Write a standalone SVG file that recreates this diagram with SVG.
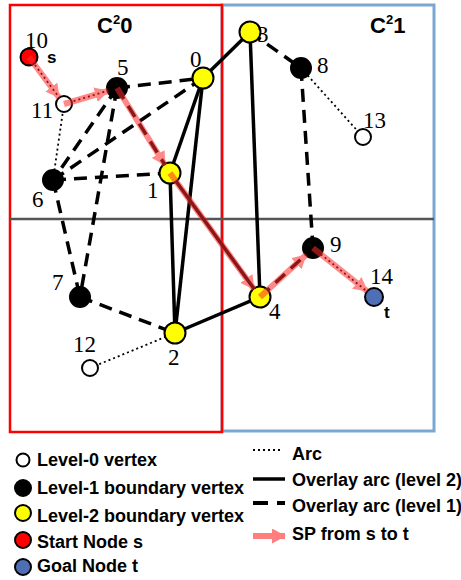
<svg xmlns="http://www.w3.org/2000/svg" width="461" height="580" viewBox="0 0 461 580">
<defs>
<style>
.solid{stroke:#000;stroke-width:3.5;fill:none}
.dash{stroke:#000;stroke-width:3.5;stroke-dasharray:13 8;fill:none}
.dot{stroke:#000;stroke-width:1.8;stroke-dasharray:2 3;fill:none}
.sp{stroke:#ff2a2a;stroke-width:6;fill:none}
.nl{font-family:"Liberation Serif","Times New Roman",serif;font-size:23px;fill:#000}
.bl{font-family:"Liberation Sans",Arial,sans-serif;font-weight:bold;fill:#000}
.lg{font-family:"Liberation Sans",Arial,sans-serif;font-weight:bold;font-size:18px;fill:#000}
.n{stroke:#000;stroke-width:2}
</style>
<marker id="ah" markerUnits="userSpaceOnUse" markerWidth="15" markerHeight="15" viewBox="0 0 15 15" refX="13" refY="7.5" orient="auto">
<path d="M0,0 L14,7.5 L0,15 Z" fill="#ff2a2a"/>
</marker>
</defs>
<rect width="461" height="580" fill="#fff"/>
<g id="clusters">
<rect x="222" y="5" width="212" height="426" fill="none" stroke="#7ba7d3" stroke-width="3"/>
<rect x="10" y="5" width="212" height="427" fill="none" stroke="#ff0000" stroke-width="2.5"/>
<line x1="10" y1="219" x2="434" y2="219" stroke="#555" stroke-width="2.5"/>
<text class="bl" font-size="22" x="97" y="33">C<tspan font-size="13" dy="-9">2</tspan><tspan dy="9">0</tspan></text>
<text class="bl" font-size="22" x="370" y="33">C<tspan font-size="13" dy="-9">2</tspan><tspan dy="9">1</tspan></text>
</g>
<g id="connectors">
<line class="dot" x1="29" y1="57" x2="64" y2="104"/>
<line class="dot" x1="64" y1="104" x2="117" y2="88"/>
<line class="dot" x1="64" y1="104" x2="53" y2="180"/>
<line class="dot" x1="301" y1="68" x2="363" y2="137"/>
<line class="dot" x1="90" y1="368" x2="175" y2="333"/>
<line class="dot" x1="313" y1="248" x2="374" y2="297"/>
<line class="dash" x1="117" y1="88" x2="203" y2="78"/>
<line class="dash" x1="53" y1="180" x2="203" y2="78"/>
<line class="dash" x1="117" y1="88" x2="53" y2="180"/>
<line class="dash" x1="53" y1="180" x2="170" y2="173"/>
<line class="dash" x1="117" y1="88" x2="80" y2="297"/>
<line class="dash" x1="53" y1="180" x2="80" y2="297"/>
<line class="dash" x1="80" y1="297" x2="175" y2="333"/>
<line class="dash" x1="250" y1="32" x2="301" y2="68"/>
<line class="dash" x1="301" y1="68" x2="313" y2="248"/>
<line class="dash" x1="117" y1="88" x2="170" y2="173"/>
<line class="dash" x1="260" y1="297" x2="313" y2="248"/>
<line class="solid" x1="203" y1="78" x2="250" y2="32"/>
<line class="solid" x1="203" y1="78" x2="170" y2="173"/>
<line class="solid" x1="203" y1="78" x2="175" y2="333"/>
<line class="solid" x1="170" y1="173" x2="175" y2="333"/>
<line class="solid" x1="250" y1="32" x2="260" y2="297"/>
<line class="solid" x1="175" y1="333" x2="260" y2="297"/>
<line class="solid" x1="170" y1="173" x2="260" y2="297" stroke-width="4.5"/>
</g>
<g id="node10"><circle class="n" cx="29" cy="57" r="8.5" fill="#ff0000"/><text class="nl" x="25" y="48">10</text><text class="bl" font-size="17" x="47" y="63">s</text></g>
<g id="node11"><circle class="n" cx="64" cy="104" r="8" fill="#fff"/><text class="nl" x="31" y="118">11</text></g>
<g id="node5"><circle class="n" cx="117" cy="88" r="10" fill="#000"/><text class="nl" x="117" y="75">5</text></g>
<g id="node0"><circle class="n" cx="203" cy="78" r="10.5" fill="#ffff00"/><text class="nl" x="190" y="67">0</text></g>
<g id="node1"><circle class="n" cx="170" cy="173" r="10.5" fill="#ffff00"/><text class="nl" x="147" y="198">1</text></g>
<g id="node6"><circle class="n" cx="53" cy="180" r="10" fill="#000"/><text class="nl" x="32" y="207">6</text></g>
<g id="node3"><circle class="n" cx="250" cy="32" r="10.5" fill="#ffff00"/><text class="nl" x="257" y="42">3</text></g>
<g id="node8"><circle class="n" cx="301" cy="68" r="10" fill="#000"/><text class="nl" x="317" y="73">8</text></g>
<g id="node13"><circle class="n" cx="363" cy="137" r="8" fill="#fff"/><text class="nl" x="363" y="128">13</text></g>
<g id="node7"><circle class="n" cx="80" cy="297" r="10" fill="#000"/><text class="nl" x="52" y="290">7</text></g>
<g id="node2"><circle class="n" cx="175" cy="333" r="10.5" fill="#ffff00"/><text class="nl" x="168" y="365">2</text></g>
<g id="node12"><circle class="n" cx="90" cy="368" r="8" fill="#fff"/><text class="nl" x="73" y="352">12</text></g>
<g id="node4"><circle class="n" cx="260" cy="297" r="10.5" fill="#ffff00"/><text class="nl" x="269" y="319">4</text></g>
<g id="node9"><circle class="n" cx="313" cy="248" r="10" fill="#000"/><text class="nl" x="330" y="252">9</text></g>
<g id="node14"><circle class="n" cx="374" cy="297" r="9" fill="#4e6fb5"/><text class="nl" x="370" y="284">14</text><text class="bl" font-size="17" x="384" y="318">t</text></g>
<g id="shortest-path" opacity="0.55">
<line class="sp" x1="29" y1="57" x2="59" y2="97.5" marker-end="url(#ah)"/>
<line class="sp" x1="64" y1="104" x2="108" y2="91" marker-end="url(#ah)"/>
<line class="sp" x1="117" y1="88" x2="165" y2="165" marker-end="url(#ah)"/>
<line class="sp" x1="170" y1="173" x2="254" y2="289" marker-end="url(#ah)"/>
<line class="sp" x1="260" y1="297" x2="306" y2="255" marker-end="url(#ah)"/>
<line class="sp" x1="313" y1="248" x2="367" y2="291" marker-end="url(#ah)"/>
</g>
<g id="legend">
<circle class="n" cx="23" cy="460" r="6.5" fill="#fff"/><text class="lg" x="37" y="466">Level-0 vertex</text>
<circle class="n" cx="23" cy="488" r="8" fill="#000"/><text class="lg" x="37" y="494">Level-1 boundary vertex</text>
<circle class="n" cx="23" cy="513" r="8" fill="#ffff00"/><text class="lg" x="37" y="522">Level-2 boundary vertex</text>
<circle class="n" cx="23" cy="540" r="8" fill="#ff0000"/><text class="lg" x="37" y="548">Start Node s</text>
<circle class="n" cx="23" cy="567" r="8" fill="#4e6fb5"/><text class="lg" x="37" y="572">Goal Node t</text>
<line class="dot" x1="253" y1="450" x2="281" y2="450"/><text class="lg" x="292" y="460">Arc</text>
<line class="solid" x1="253" y1="479" x2="285" y2="479" stroke-width="4"/><text class="lg" x="292" y="486">Overlay arc (level 2)</text>
<line x1="253" y1="503" x2="285" y2="503" stroke="#000" stroke-width="4" stroke-dasharray="15 9"/><text class="lg" x="292" y="512">Overlay arc (level 1)</text>
<g opacity="0.6"><line class="sp" x1="253" y1="536" x2="285" y2="536" marker-end="url(#ah)"/></g><text class="lg" x="292" y="540">SP from s to t</text>
</g>
</svg>
